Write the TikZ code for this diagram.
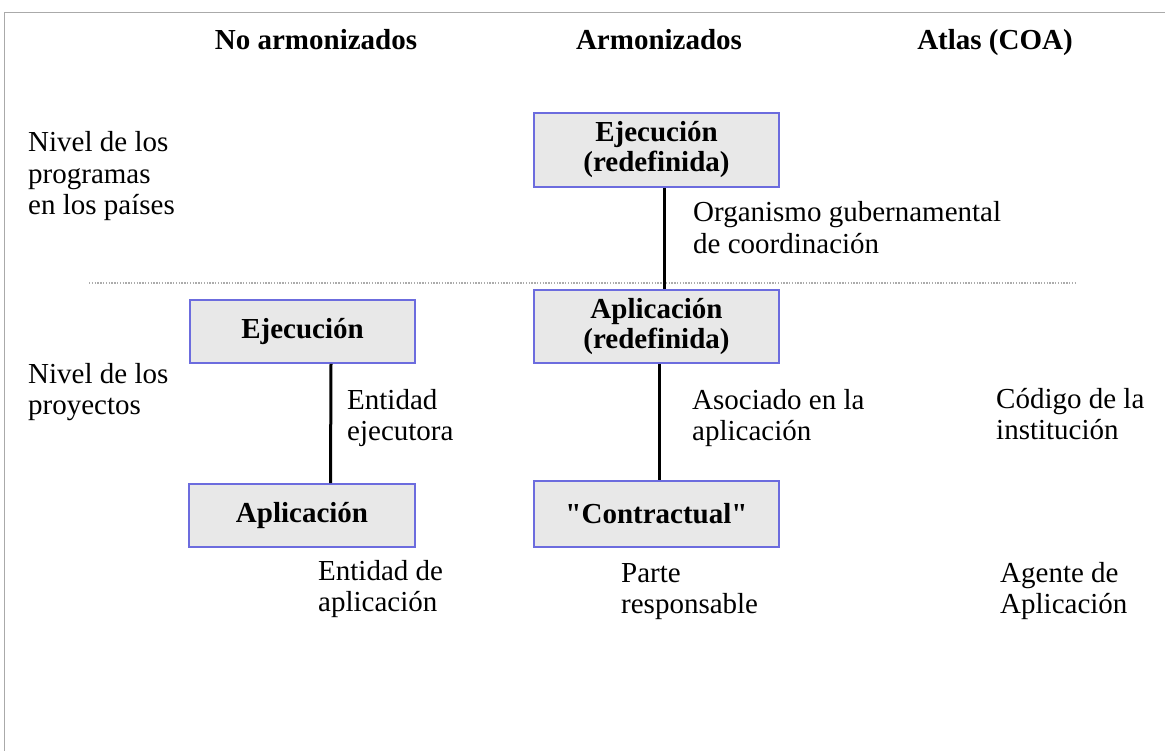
\documentclass[tikz,border=0pt]{standalone}
\usepackage{fontspec}
\setmainfont{Liberation Serif}[Ligatures=TeXOff]
\definecolor{boxblue}{RGB}{108,108,222}
\definecolor{boxfill}{RGB}{232,232,232}
\definecolor{framegray}{RGB}{170,170,170}
\newcommand\ml[1]{\begin{tabular}[t]{@{}l@{}}#1\end{tabular}}
\begin{document}
\begin{tikzpicture}[x=1pt,y=-1pt,
  every node/.style={inner sep=0pt, font=\fontsize{29}{31.5}\selectfont},
  box/.style={draw=boxblue, fill=boxfill, line width=1.8pt, align=center,
    font=\fontsize{29}{30}\selectfont\bfseries},
  conn/.style={line width=3pt, black},
  lbl/.style={anchor=base west},
  hdr/.style={anchor=base, font=\fontsize{29}{31.5}\selectfont\bfseries}]
\useasboundingbox (0,0) rectangle (1165,751);
% frame
\coordinate (fb) at (4.5,751);
\coordinate (fc) at (4.5,12.5);
\coordinate (fr) at (1165,12.5);
\draw[framegray, line width=1.5pt] (fb) -- (fc) -- (fr);
% headers
\node[hdr] (h1) at (316,50) {No armonizados};
\node[hdr] (h2) at (659,50) {Armonizados};
\node[hdr] (h3) at (995,50) {Atlas (COA)};
% level labels
\node[lbl] (lvprog) at (28,152) {\ml{Nivel de los\\programas\\en los países}};
\node[lbl] (lvproy) at (28,383) {\ml{Nivel de los\\proyectos}};
% dotted separator
\coordinate (dl) at (89,283);
\coordinate (dr) at (1077,283);
\draw[gray!65, line width=1.6pt, dash pattern=on 1.4pt off 1.4pt] (dl) -- (dr);
% boxes
\node[box, minimum width=245pt, minimum height=74pt] (eje2) at (656.5,150) {Ejecución\\(redefinida)};
\node[box, minimum width=245pt, minimum height=73pt] (apl2) at (656.5,326.5) {Aplicación\\(redefinida)};
\node[box, minimum width=225pt, minimum height=63pt] (eje1) at (302.5,331.5) {Ejecución};
\node[box, minimum width=226pt, minimum height=63pt] (apl1) at (302,515.5) {Aplicación};
\node[box, minimum width=245pt, minimum height=66pt] (con) at (656.5,514) {"Contractual"};
% connectors
\draw[conn] ([xshift=7.5pt]eje2.south) -- ([xshift=7.5pt]apl2.north);
\draw[conn] ([xshift=28.5pt]eje1.south) -- ([xshift=28.5pt]apl1.north);
\draw[conn] ([xshift=2.5pt]apl2.south) -- ([xshift=2.5pt]con.north);
% connector labels
\node[lbl] (org) at (693,222) {\ml{Organismo gubernamental\\de coordinación}};
\node[lbl] (entej) at (347,409) {\ml{Entidad\\ejecutora}};
\node[lbl] (asoc) at (692,409) {\ml{Asociado en la\\aplicación}};
\node[lbl] (cod) at (996,408) {\ml{Código de la\\institución}};
% bottom labels
\node[lbl] (entapl) at (318,580) {\ml{Entidad de\\aplicación}};
\node[lbl] (parte) at (621,582) {\ml{Parte\\responsable}};
\node[lbl] (agente) at (1000,582) {\ml{Agente de\\Aplicación}};
\end{tikzpicture}
\end{document}
